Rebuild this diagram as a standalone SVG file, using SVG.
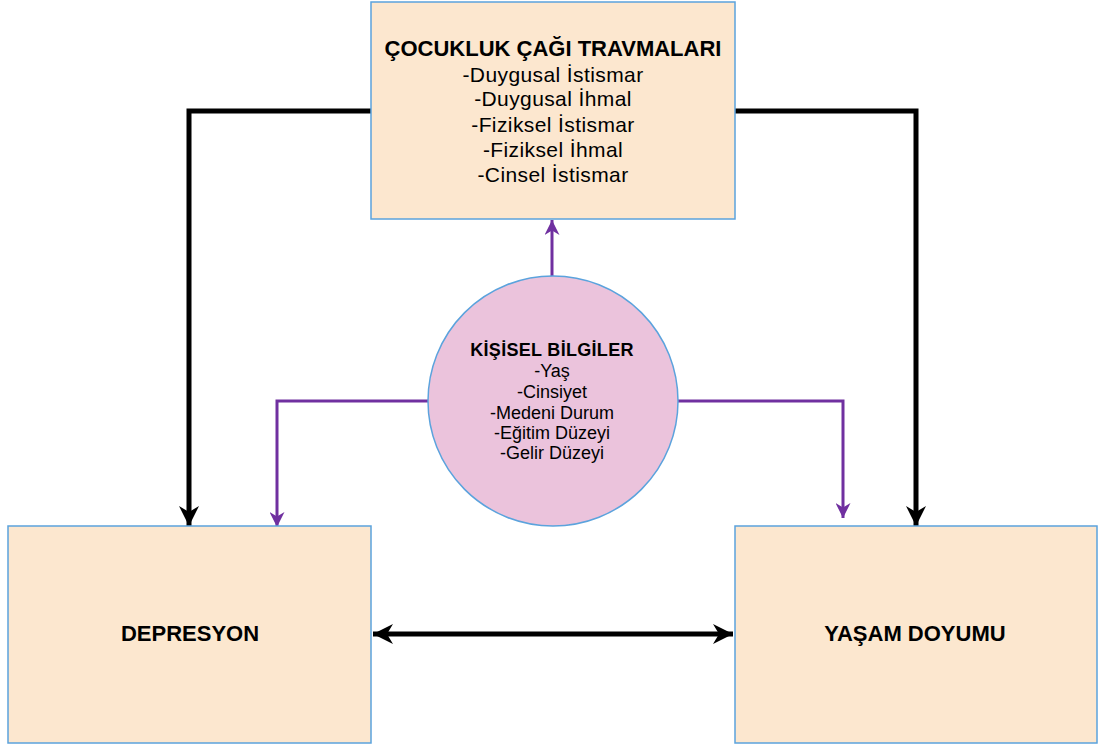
<svg xmlns="http://www.w3.org/2000/svg" width="1101" height="747" viewBox="0 0 1101 747">
<style>
.box{fill:#FCE7CF;stroke:#5BA3DD;stroke-width:1.5}
.circ{fill:#EBC3DC;stroke:#5BA3DD;stroke-width:1.5}
.blk{fill:none;stroke:#000;stroke-width:5}
.pur{fill:none;stroke:#7030A0;stroke-width:3}
.t{font-family:'Liberation Sans',Arial,sans-serif;fill:#000;text-anchor:middle}
.b{font-weight:bold}
.s{font-size:21px;letter-spacing:0.4px}
.c{font-size:18px}
</style>
<defs>
<marker id="ab" viewBox="0 0 10 10" refX="10" refY="5" markerWidth="4" markerHeight="4" orient="auto" markerUnits="strokeWidth">
<path d="M0,0 L10,5 L0,10 L3,5 Z" fill="#000"/>
</marker>
<marker id="abs" viewBox="0 0 10 10" refX="0" refY="5" markerWidth="4" markerHeight="4" orient="auto" markerUnits="strokeWidth">
<path d="M10,0 L0,5 L10,10 L7,5 Z" fill="#000"/>
</marker>
<marker id="ap" viewBox="0 0 10 10" refX="10" refY="5" markerWidth="5" markerHeight="5" orient="auto" markerUnits="strokeWidth">
<path d="M0,0 L10,5 L0,10 L3,5 Z" fill="#7030A0"/>
</marker>
</defs>
<g id="connectors">
<path class="blk" d="M371,111 H189 V526" marker-end="url(#ab)"/>
<path class="blk" d="M735,111 H916 V526" marker-end="url(#ab)"/>
<path class="blk" d="M373,634 H733" marker-start="url(#abs)" marker-end="url(#ab)"/>
<path class="pur" d="M552,276 V220" marker-end="url(#ap)"/>
<path class="pur" d="M428,401 H277 V527" marker-end="url(#ap)"/>
<path class="pur" d="M678,401 H843 V518" marker-end="url(#ap)"/>
</g>
<g id="cocukluk">
<rect class="box" x="371" y="2" width="364" height="217"/>
<text x="553" y="56" class="t b" font-size="22">ÇOCUKLUK ÇAĞI TRAVMALARI</text>
<text x="553" y="82" class="t s">-Duygusal İstismar</text>
<text x="553" y="106" class="t s">-Duygusal İhmal</text>
<text x="553" y="132" class="t s">-Fiziksel İstismar</text>
<text x="553" y="157" class="t s">-Fiziksel İhmal</text>
<text x="553" y="182" class="t s">-Cinsel İstismar</text>
</g>
<g id="kisisel">
<circle class="circ" cx="553" cy="401" r="125"/>
<text x="552" y="356" class="t b" font-size="18" letter-spacing="0.3">KİŞİSEL BİLGİLER</text>
<text x="552" y="377" class="t c">-Yaş</text>
<text x="552" y="398" class="t c">-Cinsiyet</text>
<text x="552" y="419" class="t c">-Medeni Durum</text>
<text x="552" y="439" class="t c">-Eğitim Düzeyi</text>
<text x="552" y="459" class="t c">-Gelir Düzeyi</text>
</g>
<g id="depresyon">
<rect class="box" x="8" y="526" width="363" height="217"/>
<text x="190" y="641" class="t b" font-size="22">DEPRESYON</text>
</g>
<g id="yasam">
<rect class="box" x="735" y="526" width="362" height="217"/>
<text x="915" y="641" class="t b" font-size="22">YAŞAM DOYUMU</text>
</g>
</svg>
